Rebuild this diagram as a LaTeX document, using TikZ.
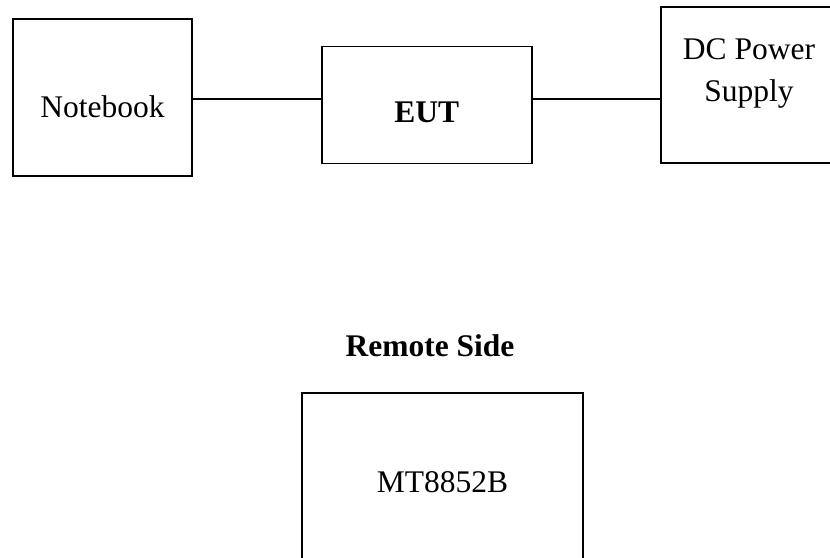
\documentclass[tikz,border=0pt]{standalone}
\usepackage{fontspec}
\setmainfont{Liberation Serif}
\usetikzlibrary{positioning, calc}
\tikzset{
  unidad/.style={rectangle, draw=black, line width=1.6pt, inner sep=0pt},
  rotulo/.style={font=\fontsize{31.5}{42}\selectfont, anchor=base, align=center, inner sep=0pt},
  rotulon/.style={font=\fontsize{31.5}{42}\selectfont\bfseries, anchor=base, align=center, inner sep=0pt},
  cable/.style={line width=1.6pt, color=black}
}
\begin{document}
\begin{tikzpicture}[x=1pt, y=1pt]
  \useasboundingbox (0,0) rectangle (830,557);
  \node (nb) [unidad, minimum width=179pt, minimum height=157pt] at (102.5,459.5) {};
  \node (eut) [unidad, minimum width=210pt, minimum height=117pt] at (426.7,452) {};
  \node (dc) [unidad, minimum width=176pt, minimum height=156pt] at (749,472) {};
  \node (mt) [unidad, minimum width=281pt, minimum height=180pt] at (442.5,74) {};
  \node (nbtxt) [rotulo] at (102.5,439) {Notebook};
  \node (euttxt) [rotulon] at (426.7,434.3) {EUT};
  \node (dctxt) [rotulo] at (749,455) {DC Power\\Supply};
  \node (remoto) [rotulon] at (430,200) {Remote Side};
  \node (mttxt) [rotulo] at (442.5,64) {MT8852B};
  \coordinate (bus) at (0,458);
  \draw [cable] (nb.east |- bus) -- (eut.west |- bus);
  \draw [cable] (eut.east |- bus) -- (dc.west |- bus);
\end{tikzpicture}
\end{document}
